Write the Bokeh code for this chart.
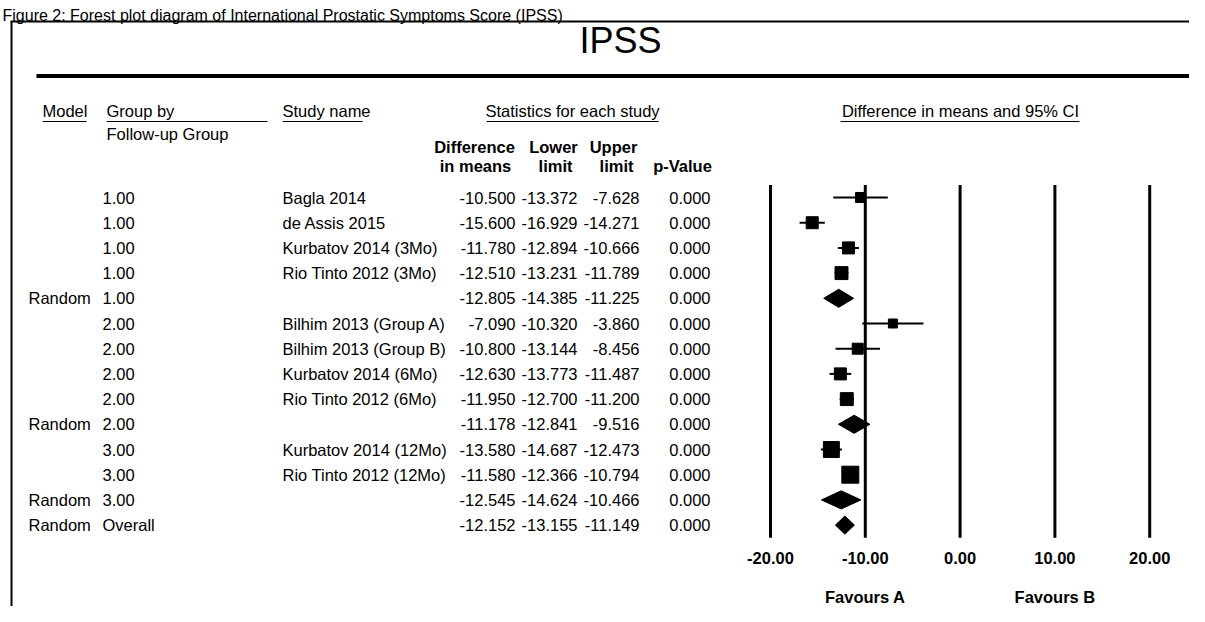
from bokeh.plotting import figure
from bokeh.models import Range1d
from bokeh.embed import file_html
from bokeh.resources import INLINE
from bokeh.core.properties import value

# ---------------- data ----------------
caption = "Figure 2: Forest plot diagram of International Prostatic Symptoms Score (IPSS)"
chart_title = "IPSS"
models = ["", "", "", "", "Random", "", "", "", "", "Random", "", "", "Random", "Random"]
groups = ["1.00", "1.00", "1.00", "1.00", "1.00", "2.00", "2.00", "2.00", "2.00", "2.00",
          "3.00", "3.00", "3.00", "Overall"]
studies = ["Bagla 2014", "de Assis 2015", "Kurbatov 2014 (3Mo)", "Rio Tinto 2012 (3Mo)", "",
           "Bilhim 2013 (Group A)", "Bilhim 2013 (Group B)", "Kurbatov 2014 (6Mo)",
           "Rio Tinto 2012 (6Mo)", "", "Kurbatov 2014 (12Mo)", "Rio Tinto 2012 (12Mo)", "", ""]
diff = [-10.500, -15.600, -11.780, -12.510, -12.805, -7.090, -10.800, -12.630, -11.950,
        -11.178, -13.580, -11.580, -12.545, -12.152]
lower = [-13.372, -16.929, -12.894, -13.231, -14.385, -10.320, -13.144, -13.773, -12.700,
         -12.841, -14.687, -12.366, -14.624, -13.155]
upper = [-7.628, -14.271, -10.666, -11.789, -11.225, -3.860, -8.456, -11.487, -11.200,
         -9.516, -12.473, -10.794, -10.466, -11.149]
pvals = [0.000] * 14
# relative study weights (summary rows have none)
rel_weight = [35, 50, 50, 58, None, 28, 42, 50, 58, None, 88, 100, None, None]
axis_ticks = [-20, -10, 0, 10, 20]
favours_labels = ["Favours A", "Favours B"]
favours_pos = [-10, 10]

# ---------------- layout (units = pixels) ----------------
WP, HP = 1189, 606
ROW0, ROWH = 197.0, 25.2          # centre of first table row, row pitch
ES0, ESPX = 959.6, 9.48           # position of 0 on effect axis, px per unit
FONT = value("Liberation Sans")
FS = "16.5px"

p = figure(width=WP, height=HP, x_range=Range1d(0, WP), y_range=Range1d(HP, 0),
           x_axis_type=None, y_axis_type=None, toolbar_location=None,
           output_backend="svg", min_border=0)
p.outline_line_color = None
p.background_fill_color = "white"
p.extra_x_ranges = {"es": Range1d((0 - ES0) / ESPX, (WP - ES0) / ESPX)}
p.extra_y_ranges = {"rows": Range1d((HP - ROW0) / ROWH, (0 - ROW0) / ROWH)}

n = len(diff)
rows = list(range(n))

# caption
p.text(x=[2], y=[15], text=[caption], text_font=FONT, text_font_size="16px",
       text_baseline="alphabetic", text_color="black")

# frame lines
p.segment(x0=[10, 11], y0=[21, 21], x1=[WP, 11], y1=[21, HP], line_color="black", line_width=2)
p.segment(x0=[36], y0=[75.5], x1=[1202], y1=[75.5], line_color="black", line_width=4)

# title
p.text(x=[620], y=[40], text=[chart_title], text_font=FONT, text_font_size="36px",
       text_align="center", text_baseline="middle")

# top header
hdr = dict(text_font=FONT, text_font_size=FS, text_baseline="middle")
p.text(x=[42, 106, 282], y=[110] * 3, text=["Model", "Group by", "Study name"], **hdr)
p.text(x=[106], y=[133], text=["Follow-up Group"], **hdr)
p.text(x=[572, 960], y=[110, 110], text=["Statistics for each study", "Difference in means and 95% CI"],
       text_align="center", **hdr)
p.segment(x0=[42, 106, 282, 486, 840], x1=[86, 267, 362, 658, 1079], y0=[121] * 5, y1=[121] * 5,
          line_color="black", line_width=1)

bold = dict(text_font=FONT, text_font_size=FS, text_font_style="bold",
            text_align="center", text_baseline="middle")
p.text(x=[474, 553, 613], y=[146] * 3, text=["Difference", "Lower", "Upper"], **bold)
p.text(x=[475, 555, 616, 682], y=[165] * 4, text=["in means", "limit", "limit", "p-Value"], **bold)

# table body
body = dict(text_font=FONT, text_font_size=FS, text_baseline="middle", y_range_name="rows")
p.text(x=[28] * n, y=rows, text=models, **body)
p.text(x=[102] * n, y=rows, text=groups, **body)
p.text(x=[282] * n, y=rows, text=studies, **body)
p.text(x=[515] * n, y=rows, text=[f"{v:.3f}" for v in diff], text_align="right", **body)
p.text(x=[577] * n, y=rows, text=[f"{v:.3f}" for v in lower], text_align="right", **body)
p.text(x=[639] * n, y=rows, text=[f"{v:.3f}" for v in upper], text_align="right", **body)
p.text(x=[710] * n, y=rows, text=[f"{v:.3f}" for v in pvals], text_align="right", **body)

# forest plot: reference lines
p.segment(x0=axis_ticks, x1=axis_ticks, y0=[-0.5] * 5, y1=[n - 0.5] * 5,
          x_range_name="es", y_range_name="rows", line_color="black", line_width=3)

# study CIs and boxes
st = [i for i in range(n) if rel_weight[i] is not None]
p.segment(x0=[lower[i] for i in st], x1=[upper[i] for i in st], y0=st, y1=st,
          x_range_name="es", y_range_name="rows", line_color="black", line_width=2)
p.scatter(x=[diff[i] for i in st], y=st, marker="square",
          size=[17 * (rel_weight[i] / 100) ** 0.5 for i in st],
          fill_color="black", line_color="black", x_range_name="es", y_range_name="rows")

# summary diamonds
sm = [i for i in range(n) if rel_weight[i] is None]
hh = 0.36
p.patches(xs=[[lower[i], diff[i], upper[i], diff[i]] for i in sm],
          ys=[[i, i - hh, i, i + hh] for i in sm],
          fill_color="black", line_color="black", x_range_name="es", y_range_name="rows")

# tick labels and favours labels
p.text(x=axis_ticks, y=[n + 0.3] * 5, text=[f"{t:.2f}" for t in axis_ticks],
       x_range_name="es", y_range_name="rows", **bold)
p.text(x=favours_pos, y=[n + 1.85] * 2, text=favours_labels,
       x_range_name="es", y_range_name="rows", **bold)

open("out.html", "w").write(file_html(p, INLINE))
